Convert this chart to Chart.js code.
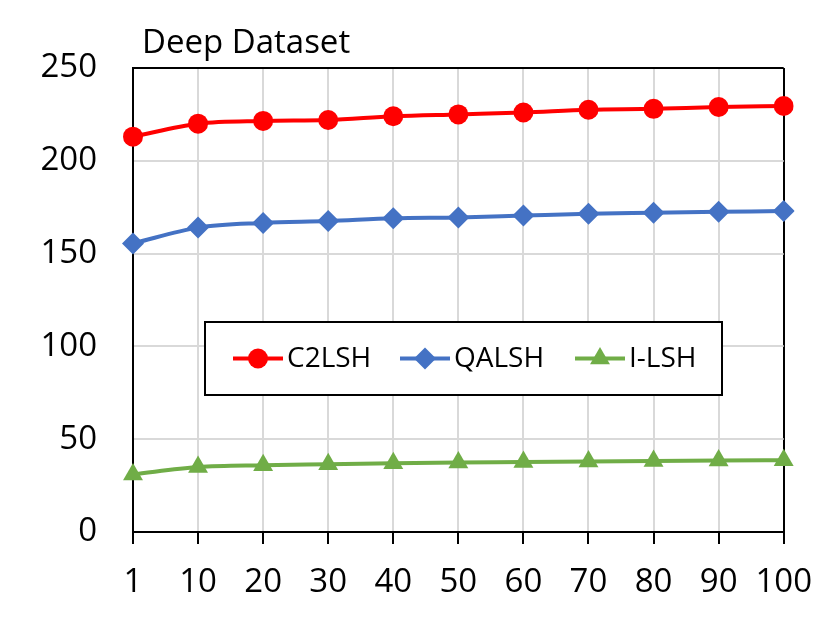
<!DOCTYPE html>
<html>
<head>
<meta charset="utf-8">
<script src="https://cdn.jsdelivr.net/npm/chart.js@4.4.0/dist/chart.umd.min.js"></script>
<style>
  html, body { margin: 0; padding: 0; background: #fff; }
</style>
</head>
<body>
<canvas id="chart" width="831" height="631"></canvas>
<script>
const categories = ['1', '10', '20', '30', '40', '50', '60', '70', '80', '90', '100'];
const c2lsh = [213, 220, 221.5, 222, 224, 225, 226, 227.5, 228, 229, 229.5];
const qalsh = [155.5, 164, 166.5, 167.5, 169, 169.5, 170.5, 171.5, 172, 172.5, 173];
const ilsh  = [31, 35, 36, 36.5, 37, 37.5, 37.7, 38, 38.2, 38.5, 38.7];
const yTicks = [0, 50, 100, 150, 200, 250];
const chartTitle = 'Deep Dataset';

const FONT = '"Open Sans", sans-serif';

function drawMarker(ctx, style, x, y, r, color) {
  ctx.fillStyle = color;
  ctx.beginPath();
  if (style === 'circle') {
    ctx.arc(x, y, r, 0, Math.PI * 2);
  } else if (style === 'rectRot') {
    ctx.moveTo(x, y - r); ctx.lineTo(x + r, y); ctx.lineTo(x, y + r); ctx.lineTo(x - r, y);
  } else {
    const s = Math.sqrt(3) / 2 * r;
    ctx.moveTo(x, y - r); ctx.lineTo(x + s, y + r / 2); ctx.lineTo(x - s, y + r / 2);
  }
  ctx.closePath();
  ctx.fill();
}

// legend box inside the plot and the title, drawn by hand
const boxLegend = {
  id: 'boxLegend',
  afterDraw(chart) {
    const ctx = chart.ctx;
    const area = chart.chartArea;
    ctx.save();

    ctx.fillStyle = '#000';
    ctx.font = '33px ' + FONT;
    ctx.textBaseline = 'alphabetic';
    ctx.textAlign = 'left';
    ctx.fillText(chartTitle, area.left + 9, 53);

    const bx = 205, by = 322, bw = 517, bh = 73;
    ctx.fillStyle = '#fff';
    ctx.fillRect(bx, by, bw, bh);
    ctx.lineWidth = 2;
    ctx.strokeStyle = '#000';
    ctx.strokeRect(bx, by, bw, bh);

    const starts = [233, 400, 575];
    const cy = by + bh / 2;
    ctx.font = '28px ' + FONT;
    ctx.textBaseline = 'middle';
    chart.data.datasets.forEach((ds, i) => {
      const x0 = starts[i];
      ctx.strokeStyle = ds.borderColor;
      ctx.lineWidth = ds.borderWidth;
      ctx.beginPath();
      ctx.moveTo(x0, cy);
      ctx.lineTo(x0 + 50, cy);
      ctx.stroke();
      drawMarker(ctx, ds.pointStyle, x0 + 25, cy, ds.pointRadius, ds.pointBackgroundColor);
      ctx.fillStyle = '#000';
      ctx.fillText(ds.label, x0 + 54, cy + 1);
    });
    ctx.restore();
  }
};

function series(label, data, color, style, radius) {
  return {
    label: label,
    data: data,
    borderColor: color,
    backgroundColor: color,
    pointBackgroundColor: color,
    pointBorderColor: color,
    pointBorderWidth: 0,
    borderWidth: 4,
    pointStyle: style,
    pointRadius: radius,
    cubicInterpolationMode: 'monotone'
  };
}

new Chart(document.getElementById('chart'), {
  type: 'line',
  data: {
    labels: categories,
    datasets: [
      series('C2LSH', c2lsh, '#FF0000', 'circle', 10),
      series('QALSH', qalsh, '#4472C4', 'rectRot', 11),
      series('I-LSH', ilsh, '#70AD47', 'triangle', 11.5)
    ]
  },
  options: {
    responsive: false,
    animation: false,
    layout: { padding: { top: 68, right: 45, left: 0, bottom: 0 } },
    plugins: {
      legend: { display: false },
      title: { display: false },
      tooltip: { enabled: false }
    },
    scales: {
      x: {
        offset: false,
        afterFit: (scale) => { scale.height = 99; },
        grid: {
          color: (c) => c.index === categories.length - 1 ? '#000' : '#d9d9d9',
          lineWidth: 2,
          tickColor: '#000',
          tickLength: 12,
          tickWidth: 2
        },
        border: { color: '#000', width: 2 },
        ticks: {
          color: '#000',
          font: { family: FONT, size: 33 },
          padding: 19,
          maxRotation: 0,
          autoSkip: false
        }
      },
      y: {
        min: 0,
        max: 250,
        afterFit: (scale) => { scale.width = 133; },
        afterBuildTicks: (scale) => { scale.ticks = yTicks.map(v => ({ value: v })); },
        grid: {
          color: (c) => c.tick && c.tick.value === 250 ? '#000' : '#d9d9d9',
          lineWidth: 2,
          drawTicks: false
        },
        border: { color: '#000', width: 2 },
        ticks: {
          color: '#000',
          font: { family: FONT, size: 33 },
          padding: 36
        }
      }
    }
  },
  plugins: [boxLegend]
});
</script>
</body>
</html>
